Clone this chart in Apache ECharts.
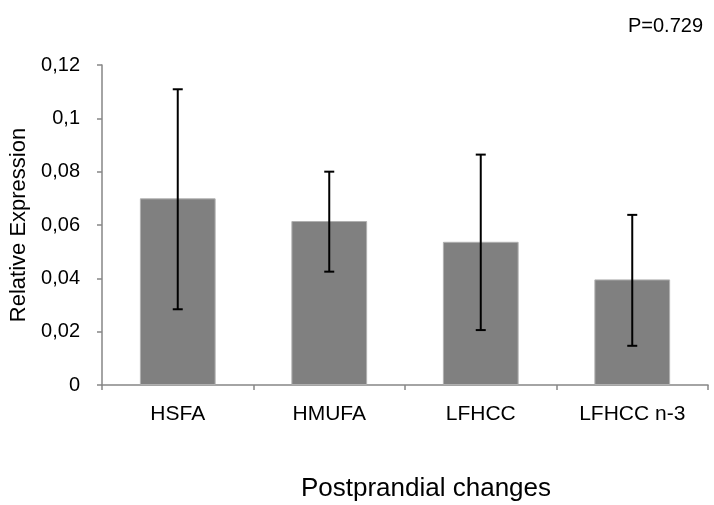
<!DOCTYPE html>
<html>
<head>
<meta charset="utf-8">
<script src="https://cdn.jsdelivr.net/npm/echarts@6/dist/echarts.min.js"></script>
<style>
  html, body { margin: 0; padding: 0; background: #fff; }
  #chart { width: 714px; height: 505px; }
</style>
</head>
<body>
<div id="chart"></div>
<script>
// Diets and their mean relative expression, with error bar bounds
const categories = ['HSFA', 'HMUFA', 'LFHCC', 'LFHCC n-3'];
const means = [0.070, 0.0615, 0.0537, 0.0396];
const upper = [0.1109, 0.0800, 0.0864, 0.0638];
const lower = [0.0284, 0.0425, 0.0206, 0.0147];
const yTickLabels = ['0', '0,02', '0,04', '0,06', '0,08', '0,1', '0,12'];

const font = 'Liberation Sans, Arial, sans-serif';
const chart = echarts.init(document.getElementById('chart'), null, { renderer: 'canvas' });

chart.setOption({
  animation: false,
  backgroundColor: '#ffffff',
  title: {
    text: 'P=0.729',
    right: 6,
    top: 11,
    textStyle: { fontFamily: font, fontSize: 20, fontWeight: 'normal', color: '#000' }
  },
  grid: { left: 102, right: 6, top: 65, bottom: 120, outerBoundsMode: 'none' },
  xAxis: {
    type: 'category',
    data: categories,
    name: 'Postprandial changes',
    nameLocation: 'middle',
    nameGap: 91,
    nameTextStyle: { fontFamily: font, fontSize: 26, color: '#000', padding: [0, 0, 0, 42] },
    axisLine: { lineStyle: { color: '#868686', width: 1.5 } },
    axisTick: { show: true, length: 5, lineStyle: { color: '#868686', width: 1.5 } },
    axisLabel: { fontFamily: font, fontSize: 21, color: '#000', margin: 19 }
  },
  yAxis: {
    type: 'value',
    min: 0,
    max: 0.12,
    interval: 0.02,
    name: 'Relative Expression',
    nameLocation: 'middle',
    nameGap: 68,
    nameTextStyle: { fontFamily: font, fontSize: 22, color: '#000' },
    axisLine: { show: true, lineStyle: { color: '#868686', width: 1.5 } },
    axisTick: { show: true, length: 5, lineStyle: { color: '#868686', width: 1.5 } },
    splitLine: { show: false },
    axisLabel: {
      fontFamily: font, fontSize: 20, color: '#000', margin: 22,
      formatter: function (v) { return yTickLabels[Math.round(v / 0.02)]; }
    }
  },
  series: [
    {
      type: 'bar',
      data: means,
      barWidth: '50%',
      itemStyle: { color: '#808080', borderColor: '#b0b0b0', borderWidth: 1 }
    },
    {
      type: 'custom',
      data: categories.map(function (c, i) { return [i, lower[i], upper[i]]; }),
      encode: { x: 0, y: [1, 2] },
      z: 5,
      renderItem: function (params, api) {
        const i = api.value(0);
        const lo = api.coord([i, api.value(1)]);
        const hi = api.coord([i, api.value(2)]);
        const cap = 5;
        const style = { stroke: '#000', lineWidth: 2 };
        return {
          type: 'group',
          children: [
            { type: 'line', shape: { x1: hi[0], y1: hi[1], x2: lo[0], y2: lo[1] }, style: style },
            { type: 'line', shape: { x1: hi[0] - cap, y1: hi[1], x2: hi[0] + cap, y2: hi[1] }, style: style },
            { type: 'line', shape: { x1: lo[0] - cap, y1: lo[1], x2: lo[0] + cap, y2: lo[1] }, style: style }
          ]
        };
      }
    }
  ]
});
</script>
</body>
</html>
